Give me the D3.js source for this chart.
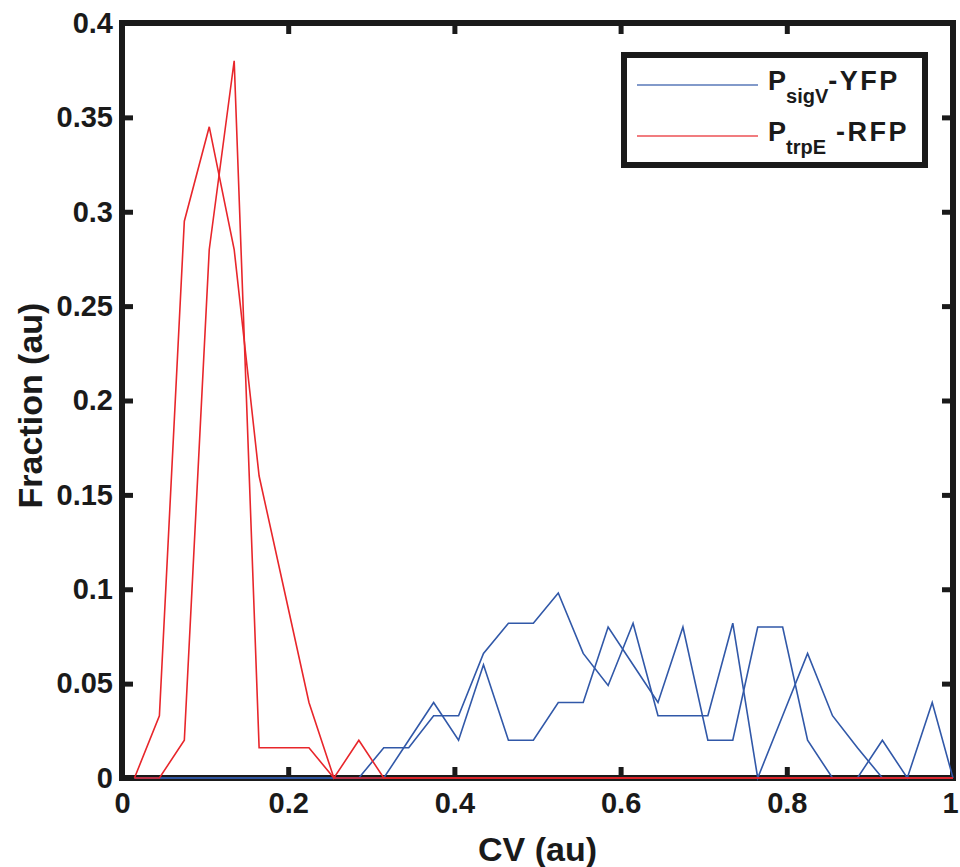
<!DOCTYPE html>
<html>
<head>
<meta charset="utf-8">
<script src="https://cdn.jsdelivr.net/npm/d3@7"></script>
<style>
  body { margin: 0; background: #fff; }
  svg { display: block; }
  text { font-family: "Liberation Sans", Arial, Helvetica, sans-serif; font-weight: bold; fill: #1a1a1a; }
</style>
</head>
<body>
<div class="main"></div>
<script>
// bin centres of the CV histogram (last point closes the curve at 1)
var cvBins = [0.015, 0.045, 0.075, 0.105, 0.135, 0.165, 0.195, 0.225, 0.255, 0.285,
              0.315, 0.345, 0.375, 0.405, 0.435, 0.465, 0.495, 0.525, 0.555, 0.585,
              0.615, 0.645, 0.675, 0.705, 0.735, 0.765, 0.795, 0.825, 0.855, 0.885,
              0.915, 0.945, 0.975, 1.0];

// PsigV-YFP, two replicates
var sigV1 = [0, 0, 0, 0, 0, 0, 0, 0, 0, 0,
             0.016, 0.016, 0.033, 0.033, 0.066, 0.082, 0.082, 0.098, 0.066, 0.049,
             0.082, 0.033, 0.033, 0.033, 0.082, 0, 0.033, 0.066, 0.033, 0.016,
             0, 0, 0, 0];
var sigV2 = [0, 0, 0, 0, 0, 0, 0, 0, 0, 0,
             0, 0.02, 0.04, 0.02, 0.06, 0.02, 0.02, 0.04, 0.04, 0.08,
             0.06, 0.04, 0.08, 0.02, 0.02, 0.08, 0.08, 0.02, 0, 0,
             0.02, 0, 0.04, 0];

// PtrpE-RFP, two replicates
var trpE1 = [0, 0.033, 0.295, 0.345, 0.28, 0.16, 0.1, 0.04, 0, 0.02,
             0, 0, 0, 0, 0, 0, 0, 0, 0, 0,
             0, 0, 0, 0, 0, 0, 0, 0, 0, 0,
             0, 0, 0, 0];
var trpE2 = [0, 0, 0.02, 0.28, 0.38, 0.016, 0.016, 0.016, 0, 0,
             0, 0, 0, 0, 0, 0, 0, 0, 0, 0,
             0, 0, 0, 0, 0, 0, 0, 0, 0, 0,
             0, 0, 0, 0];

var xTicks = [0, 0.2, 0.4, 0.6, 0.8, 1];
var yTicks = [0, 0.05, 0.1, 0.15, 0.2, 0.25, 0.3, 0.35, 0.4];

var blue = "#3158a8";
var red = "#e8262b";
var ink = "#1a1a1a";

var W = 960, H = 867;
var mLeft = 122, mRight = 953, mTop = 23, mBottom = 778;

var x = d3.scaleLinear().domain([0, 1]).range([mLeft, mRight]);
var y = d3.scaleLinear().domain([0, 0.4]).range([mBottom, mTop]);

var svg = d3.select(".main")
  .append("svg")
    .attr("width", W)
    .attr("height", H);

svg.append("rect")
    .attr("width", W)
    .attr("height", H)
    .style("fill", "#fff");

// inward ticks on all four sides
function styleAxis(g) {
  g.select(".domain").remove();
  g.selectAll(".tick line").style("stroke", ink).style("stroke-width", 5);
  g.selectAll(".tick text")
    .style("font-size", "29px")
    .style("font-family", "'Liberation Sans', Arial, sans-serif")
    .style("font-weight", "bold")
    .style("fill", ink);
}

var xAxisG = svg.append("g")
    .attr("transform", "translate(0," + mBottom + ")")
    .call(d3.axisBottom(x).tickValues(xTicks).tickSizeInner(-11).tickSizeOuter(0)
      .tickPadding(14).tickFormat(d3.format("")))
    .call(styleAxis);

// keep the "1" inside the picture
xAxisG.selectAll(".tick text")
    .filter(function(d) { return d === 1; })
    .attr("dx", -3);

svg.append("g")
    .attr("transform", "translate(0," + mTop + ")")
    .call(d3.axisTop(x).tickValues(xTicks).tickSizeInner(-11).tickSizeOuter(0)
      .tickFormat(""))
    .call(styleAxis);

svg.append("g")
    .attr("transform", "translate(" + mLeft + ",0)")
    .call(d3.axisLeft(y).tickValues(yTicks).tickSizeInner(-11).tickSizeOuter(0)
      .tickPadding(9).tickFormat(d3.format("")))
    .call(styleAxis);

svg.append("g")
    .attr("transform", "translate(" + mRight + ",0)")
    .call(d3.axisRight(y).tickValues(yTicks).tickSizeInner(-11).tickSizeOuter(0)
      .tickFormat(""))
    .call(styleAxis);

// axes box
svg.append("rect")
    .attr("x", mLeft)
    .attr("y", mTop)
    .attr("width", mRight - mLeft)
    .attr("height", mBottom - mTop)
    .style("fill", "none")
    .style("stroke", ink)
    .style("stroke-width", 6);

var line = d3.line()
    .x(function(d, i) { return x(cvBins[i]); })
    .y(function(d) { return y(d); });

var series = [
  { values: sigV1, color: blue },
  { values: sigV2, color: blue },
  { values: trpE1, color: red },
  { values: trpE2, color: red }
];

svg.selectAll(".series")
  .data(series)
  .enter()
  .append("path")
    .attr("class", "series")
    .attr("d", function(d) { return line(d.values); })
    .style("fill", "none")
    .style("stroke", function(d) { return d.color; })
    .style("stroke-width", 1.6)
    .style("stroke-linejoin", "miter");

// legend
var legend = svg.append("g");

legend.append("rect")
    .attr("x", 624)
    .attr("y", 55)
    .attr("width", 301)
    .attr("height", 110)
    .style("fill", "#fff")
    .style("stroke", ink)
    .style("stroke-width", 6);

var legendItems = [
  { name: "P", sub: "sigV", rest: "-YFP", color: blue, y: 85 },
  { name: "P", sub: "trpE", rest: " -RFP", color: red, y: 136 }
];

legendItems.forEach(function(item) {
  legend.append("line")
      .attr("x1", 637)
      .attr("x2", 758)
      .attr("y1", item.y)
      .attr("y2", item.y)
      .style("stroke", item.color)
      .style("stroke-width", 1.4)
      .style("opacity", 0.8);

  var t = legend.append("text")
      .attr("x", 768)
      .attr("y", item.y + 5)
      .style("font-size", "27px")
      .style("white-space", "pre");
  t.append("tspan").text(item.name);
  t.append("tspan")
      .attr("dy", 13)
      .style("font-size", "20px")
      .text(item.sub);
  t.append("tspan")
      .attr("dy", -13)
      .style("letter-spacing", "2.5px")
      .text(item.rest);
});

// axis titles
svg.append("text")
    .attr("x", (mLeft + mRight) / 2)
    .attr("y", 861)
    .style("text-anchor", "middle")
    .style("font-size", "34px")
    .text("CV (au)");

svg.append("text")
    .attr("transform", "translate(42," + ((mTop + mBottom) / 2 + 5) + ") rotate(-90)")
    .style("text-anchor", "middle")
    .style("font-size", "34px")
    .text("Fraction (au)");
</script>
</body>
</html>
